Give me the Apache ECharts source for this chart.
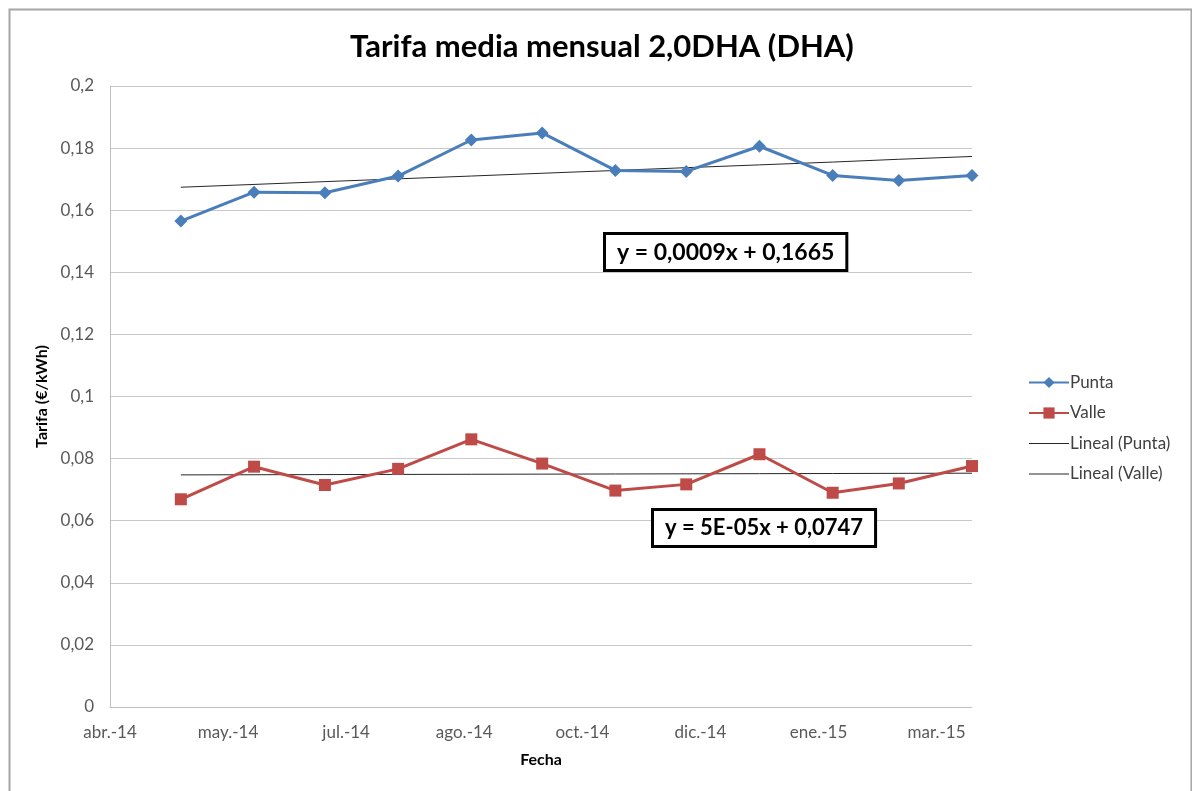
<!DOCTYPE html>
<html>
<head>
<meta charset="utf-8">
<script src="https://cdn.jsdelivr.net/npm/echarts@6/dist/echarts.min.js"></script>
<style>
  html, body { margin: 0; padding: 0; background: #ffffff; }
  #chart { width: 1192px; height: 791px; }
</style>
</head>
<body>
<div id="chart"></div>
<script>
// ---- Data ----
const dates = ['2014-05-01','2014-06-01','2014-07-01','2014-08-01','2014-09-01','2014-10-01',
               '2014-11-01','2014-12-01','2015-01-01','2015-02-01','2015-03-01','2015-04-01'];
const punta = [0.1565, 0.1658, 0.1656, 0.1710, 0.1826, 0.1849, 0.1728, 0.1725, 0.1806, 0.1712, 0.1696, 0.1712];
const valle = [0.0669, 0.0774, 0.0715, 0.0767, 0.0862, 0.0784, 0.0697, 0.0717, 0.0814, 0.0690, 0.0720, 0.0776];
const trendPunta = { slope: 0.0009, intercept: 0.1665 };
const trendValle = { slope: 0.00005, intercept: 0.0747 };
const xTickLabels = ['abr.-14','may.-14','jul.-14','ago.-14','oct.-14','dic.-14','ene.-15','mar.-15'];
const axisStart = '2014-04-01';
const axisEnd = '2015-04-01';
const tickDays = 50;
const eqPunta = 'y = 0,0009x + 0,1665';
const eqValle = 'y = 5E-05x + 0,0747';

// ---- helpers ----
function dayNum(s) { const p = s.split('-').map(Number); return Date.UTC(p[0], p[1]-1, p[2]) / 86400000; }
const d0 = dayNum(axisStart);
const xs = dates.map(d => dayNum(d) - d0);
const puntaData = xs.map((x, i) => [x, punta[i]]);
const valleData = xs.map((x, i) => [x, valle[i]]);
const trendPuntaData = xs.map((x, i) => [x, trendPunta.intercept + trendPunta.slope * (i + 1)]);
const trendValleData = xs.map((x, i) => [x, trendValle.intercept + trendValle.slope * (i + 1)]);

const FONT = 'Lato, "Open Sans", sans-serif';
const LINE_ICON = 'path://M0,0H40V1H0Z';
const chart = echarts.init(document.getElementById('chart'), null, { renderer: 'canvas' });

chart.setOption({
  animation: false,
  backgroundColor: '#ffffff',
  textStyle: { fontFamily: FONT },
  title: {
    text: 'Tarifa media mensual 2,0DHA (DHA)',
    left: 597, top: 26, textAlign: 'center',
    textStyle: { fontFamily: FONT, fontSize: 31, fontWeight: 'bold', color: '#000000' }
  },
  grid: { left: 110, right: 220, top: 86, bottom: 84, containLabel: false },
  legend: {
    orient: 'vertical', left: 1023, top: 369,
    itemWidth: 40, itemHeight: 14, itemGap: 13.5,
    textStyle: { fontFamily: FONT, fontSize: 17, color: '#404040', padding: [0,0,0,-4] },
    data: [
      { name: 'Punta' },
      { name: 'Valle' },
      { name: 'Lineal (Punta)', icon: LINE_ICON },
      { name: 'Lineal (Valle)', icon: LINE_ICON }
    ]
  },
  xAxis: {
    type: 'value', min: 0, max: dayNum(axisEnd) - d0, interval: tickDays,
    name: 'Fecha', nameLocation: 'middle', nameGap: 45,
    nameTextStyle: { fontFamily: FONT, fontSize: 16, fontWeight: 'bold', color: '#000000' },
    axisLine: { show: true, lineStyle: { color: '#BFBFBF', width: 1 } },
    axisTick: { show: false },
    splitLine: { show: false },
    axisLabel: {
      fontFamily: FONT, fontSize: 17, color: '#595959', margin: 17,
      showMaxLabel: false,
      formatter: function (v) {
        const k = Math.round(v / tickDays);
        if (Math.abs(v - k * tickDays) > 1e-6) return '';
        return xTickLabels[k] || '';
      }
    }
  },
  yAxis: {
    type: 'value', min: 0, max: 0.2, interval: 0.02,
    name: 'Tarifa (€/kWh)', nameLocation: 'middle', nameGap: 56, nameRotate: 90,
    nameTextStyle: { fontFamily: FONT, fontSize: 16, fontWeight: 'bold', color: '#000000' },
    axisLine: { show: true, lineStyle: { color: '#BFBFBF', width: 1 } },
    axisTick: { show: false },
    splitLine: { show: true, lineStyle: { color: '#C8C8C8', width: 1 } },
    axisLabel: {
      fontFamily: FONT, fontSize: 17, color: '#595959', margin: 16,
      formatter: function (v) { return String(+v.toFixed(2)).replace('.', ','); }
    }
  },
  series: [
    {
      name: 'Punta', type: 'line', data: puntaData,
      symbol: 'diamond', symbolSize: 13, showSymbol: true,
      lineStyle: { color: '#4A7EBB', width: 3 },
      itemStyle: { color: '#4A7EBB' }, z: 5
    },
    {
      name: 'Valle', type: 'line', data: valleData,
      symbol: 'rect', symbolSize: 12, showSymbol: true,
      lineStyle: { color: '#BE4B48', width: 3 },
      itemStyle: { color: '#BE4B48' }, z: 5
    },
    {
      name: 'Lineal (Punta)', type: 'line', data: trendPuntaData,
      symbol: 'none', lineStyle: { color: '#262626', width: 1 },
      itemStyle: { color: '#262626' }, z: 3
    },
    {
      name: 'Lineal (Valle)', type: 'line', data: trendValleData,
      symbol: 'none', lineStyle: { color: '#262626', width: 1 },
      itemStyle: { color: '#262626' }, z: 3
    }
  ],
  graphic: [
    {
      type: 'rect', left: 7, top: 7, z: -10, silent: true,
      shape: { width: 1182, height: 800 },
      style: { fill: 'none', stroke: '#A6A6A6', lineWidth: 2 }
    },
    {
      type: 'text', left: 603, top: 232, z: 20,
      style: {
        text: eqPunta, fontFamily: FONT, fontSize: 23, fontWeight: 'bold', fill: '#000000',
        backgroundColor: '#ffffff', borderColor: '#000000', borderWidth: 3, padding: [6, 11, 5, 11]
      }
    },
    {
      type: 'text', left: 651, top: 508, z: 20,
      style: {
        text: eqValle, fontFamily: FONT, fontSize: 22, fontWeight: 'bold', fill: '#000000',
        backgroundColor: '#ffffff', borderColor: '#000000', borderWidth: 3, padding: [6, 11, 6, 11]
      }
    }
  ]
});
</script>
</body>
</html>
